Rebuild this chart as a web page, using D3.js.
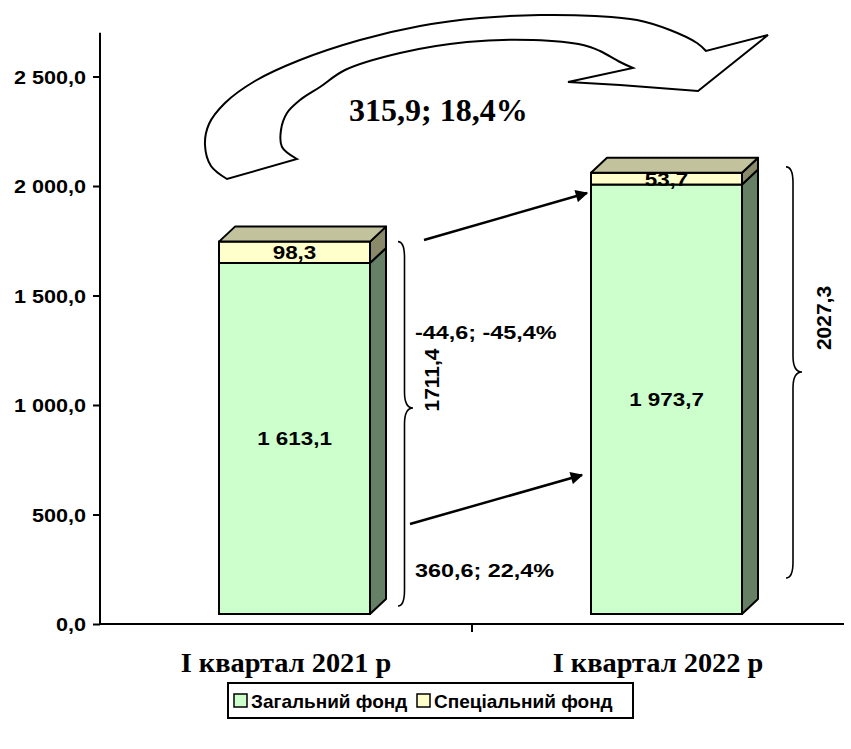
<!DOCTYPE html>
<html><head><meta charset="utf-8">
<script src="https://cdn.jsdelivr.net/npm/d3@7"></script>
<style>
html,body{margin:0;padding:0;background:#fff;}
svg{display:block;}
</style></head>
<body>
<svg id="chart" width="851" height="749"></svg>
<script>
// ---- data ----
const categories = ["І квартал 2021 р", "І квартал 2022 р"];
const generalFund = [1613.1, 1973.7];
const specialFund = [98.3, 53.7];
const totals = ["1711,4", "2027,3"];
const generalLabels = ["1 613,1", "1 973,7"];
const specialLabels = ["98,3", "53,7"];
const seriesNames = ["Загальний фонд", "Спеціальний фонд"];
const yTicks = [0, 500, 1000, 1500, 2000, 2500];
const changeTotal = "315,9; 18,4%";
const changeSpecial = "-44,6; -45,4%";
const changeGeneral = "360,6; 22,4%";

// ---- layout ----
const svg = d3.select("#chart");
const sans = "'Liberation Sans', Arial, sans-serif";
const serif = "'Liberation Serif', 'Times New Roman', serif";

const x = d3.scaleBand().domain(categories).range([100, 844]).padding(0);
const y = d3.scaleLinear().domain([0, 2700]).range([624, 32.7]);
const yBar = d3.scaleLinear().domain([0, 2700]).range([614, 26.5]);
const barOffset = 119, barW = 151, dx = 16, dy = 15;

const fmt = d3.formatLocale({decimal: ",", thousands: " ", grouping: [3], currency: ["", ""]}).format(",.1f");

// stretched text helper
function stext(parent, tx, ty, str, size, sx, anchor, family) {
  return parent.append("text")
    .attr("transform", `translate(${tx},${ty}) scale(${sx},1)`)
    .attr("text-anchor", anchor || "start")
    .attr("font-family", family || sans).attr("font-weight", "bold")
    .attr("font-size", size).attr("fill", "#000").text(str);
}

// Y axis
const yAxis = d3.axisLeft(y).tickValues(yTicks).tickFormat(fmt).tickSize(7).tickPadding(5);
const gy = svg.append("g").attr("transform", "translate(100,0)").call(yAxis);
gy.select(".domain").attr("stroke", "#000").attr("stroke-width", 2).attr("d", `M0,${y(2700)}V${y(0)}`);
gy.selectAll(".tick line").attr("stroke", "#000").attr("stroke-width", 2);
gy.selectAll(".tick text").remove();
gy.selectAll(".tick").each(function(d) {
  stext(d3.select(this), -14, 6.5, fmt(d), 18, 1.2, "end");
});

// X axis line
svg.append("line").attr("x1", 100).attr("x2", 844).attr("y1", y(0)).attr("y2", y(0))
  .attr("stroke", "#000").attr("stroke-width", 2);
svg.append("line").attr("x1", x(categories[1])).attr("x2", x(categories[1]))
  .attr("y1", y(0)).attr("y2", y(0) + 8).attr("stroke", "#000").attr("stroke-width", 2);

// Category labels
categories.forEach(c => {
  stext(svg, x(c) + x.bandwidth() / 2, 672, c, 27, 1.05, "middle", serif);
});

// 3D bars
const colors = {
  gFront: "#CCFFCC", gSide: "#668066",
  sFront: "#FFFFCC", sSide: "#8A8A6A", sTop: "#C2C29C"
};
function box(g, x0, yb, yt, front, side) {
  const x1 = x0 + barW;
  g.append("path").attr("d", `M${x1},${yb}L${x1 + dx},${yb - dy}L${x1 + dx},${yt - dy}L${x1},${yt}Z`)
    .attr("fill", side).attr("stroke", "#000").attr("stroke-width", 2).attr("stroke-linejoin", "round");
  g.append("rect").attr("x", x0).attr("y", yt).attr("width", barW).attr("height", yb - yt)
    .attr("fill", front).attr("stroke", "#000").attr("stroke-width", 2);
}
categories.forEach((c, i) => {
  const g = svg.append("g");
  const x0 = x(c) + barOffset;
  const yb = yBar(0), yg = yBar(generalFund[i]), ys = yBar(generalFund[i] + specialFund[i]);
  box(g, x0, yb, yg, colors.gFront, colors.gSide);
  box(g, x0, yg, ys, colors.sFront, colors.sSide);
  g.append("path").attr("d", `M${x0},${ys}L${x0 + dx},${ys - dy}L${x0 + barW + dx},${ys - dy}L${x0 + barW},${ys}Z`)
    .attr("fill", colors.sTop).attr("stroke", "#000").attr("stroke-width", 2).attr("stroke-linejoin", "round");
  stext(g, x0 + barW / 2, (yb + yg) / 2 + 6.5, generalLabels[i], 19, 1.18, "middle");
  stext(g, x0 + barW / 2, (yg + ys) / 2 + 7, specialLabels[i], 19, 1.18, "middle");
});

// Braces
function brace(xl, xr, y0, y1, ymid) {
  const xm = (xl + xr) / 2 - 1;
  const r = 8;
  const d = `M${xl},${y0} Q${xm},${y0} ${xm},${y0 + r * 2} L${xm},${ymid - r * 2} Q${xm},${ymid} ${xr},${ymid}` +
            ` Q${xm},${ymid} ${xm},${ymid + r * 2} L${xm},${y1 - r * 2} Q${xm},${y1} ${xl},${y1}`;
  svg.append("path").attr("d", d).attr("fill", "none").attr("stroke", "#000").attr("stroke-width", 1.6);
}
const b1 = x(categories[0]) + barOffset + barW + dx;
const b2 = x(categories[1]) + barOffset + barW + dx;
brace(b1 + 12, b1 + 27, yBar(generalFund[0] + specialFund[0]), yBar(0) - 8, 408);
brace(b2 + 28, b2 + 44, yBar(generalFund[1] + specialFund[1]) - 6, yBar(0) - 36, 372);

// Totals rotated
svg.append("text").attr("transform", `translate(${b1 + 53},380) rotate(-90)`)
  .attr("text-anchor", "middle").attr("font-family", sans).attr("font-weight", "bold")
  .attr("font-size", 21).text(totals[0]);
svg.append("text").attr("transform", `translate(${b2 + 73},318) rotate(-90)`)
  .attr("text-anchor", "middle").attr("font-family", sans).attr("font-weight", "bold")
  .attr("font-size", 21).text(totals[1]);

// Change labels
stext(svg, 415, 339, changeSpecial, 18, 1.3, "start");
stext(svg, 415, 577, changeGeneral, 18, 1.3, "start");

// Straight arrows
const defs = svg.append("defs");
defs.append("marker").attr("id", "ah").attr("viewBox", "0 0 10 10").attr("refX", 9).attr("refY", 5)
  .attr("markerWidth", 6).attr("markerHeight", 5).attr("orient", "auto").attr("markerUnits", "strokeWidth")
  .append("path").attr("d", "M0,0L10,5L0,10Z").attr("fill", "#000");
svg.append("line").attr("x1", 424).attr("y1", 240).attr("x2", 587).attr("y2", 193)
  .attr("stroke", "#000").attr("stroke-width", 2.5).attr("marker-end", "url(#ah)");
svg.append("line").attr("x1", 410).attr("y1", 524).attr("x2", 582).attr("y2", 475)
  .attr("stroke", "#000").attr("stroke-width", 2.5).attr("marker-end", "url(#ah)");

// Big curved arrow (decoration)
const outer = [[227,179],[211,166],[205,145],[209,124],[225,103],[255,81],[300,60],[360,40],[420,26],[480,18],[540,15],[595,16],[637,20],[670,30],[697,43],[706,51]];
const inner = [[633,68],[620,62],[600,51],[583,45],[533,40],[467,42],[400,53],[345,70],[320,87],[300,100],[287,113],[281,130],[282,147],[297,159]];
const lc = d3.line().curve(d3.curveCatmullRom.alpha(0.5));
const head = "L768,35L698,91L620,85L568,82L633,68";
const dPath = lc(outer) + head + lc(inner).replace(/^M/, "L") + "Z";
svg.append("path").attr("d", dPath).attr("fill", "#fff").attr("stroke", "#000").attr("stroke-width", 2).attr("stroke-linejoin", "miter");
svg.append("text").attr("x", 349).attr("y", 121).attr("font-family", serif).attr("font-weight", "bold")
  .attr("font-size", 32).text(changeTotal);

// Legend
const lg = svg.append("g");
lg.append("rect").attr("x", 228).attr("y", 683).attr("width", 405).attr("height", 35)
  .attr("fill", "#fff").attr("stroke", "#000").attr("stroke-width", 2);
const legX = [234, 417];
const legC = [colors.gFront, colors.sFront];
seriesNames.forEach((n, i) => {
  lg.append("rect").attr("x", legX[i]).attr("y", 694).attr("width", 13).attr("height", 13)
    .attr("fill", legC[i]).attr("stroke", "#000").attr("stroke-width", 1.5);
  stext(lg, legX[i] + 17, 708, n, 19, 1, "start");
});
</script>
</body></html>
